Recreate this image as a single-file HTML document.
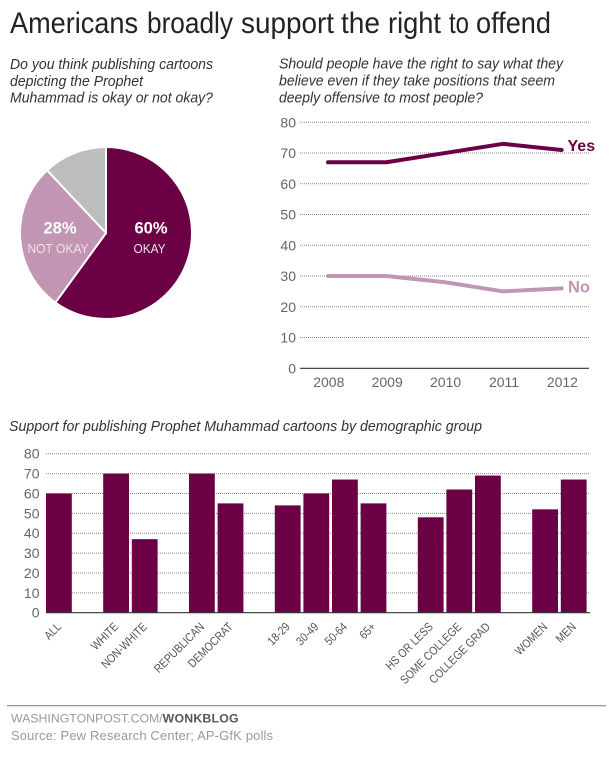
<!DOCTYPE html>
<html lang="en">
<head>
<meta charset="utf-8">
<title>Americans broadly support the right to offend</title>
<style>
html,body{margin:0;padding:0;background:#fff;width:614px;height:757px;overflow:hidden}
svg{display:block;font-family:"Liberation Sans",Arial,sans-serif}
</style>
</head>
<body>
<svg id="chart" xmlns="http://www.w3.org/2000/svg" width="614" height="757" viewBox="0 0 614 757">
  <rect width="614" height="757" fill="#fff"/>
  <text y="33" font-size="30" fill="#222" lengthAdjust="spacingAndGlyphs"><tspan x="10" textLength="128" lengthAdjust="spacingAndGlyphs">Americans</tspan> <tspan x="147" textLength="86" lengthAdjust="spacingAndGlyphs">broadly</tspan> <tspan x="241" textLength="93" lengthAdjust="spacingAndGlyphs">support</tspan> <tspan x="341" textLength="39" lengthAdjust="spacingAndGlyphs">the</tspan> <tspan x="388" textLength="53" lengthAdjust="spacingAndGlyphs">right</tspan> <tspan x="449" textLength="20" lengthAdjust="spacingAndGlyphs">to</tspan> <tspan x="476" textLength="75" lengthAdjust="spacingAndGlyphs">offend</tspan></text>

  <g font-size="14.5" font-style="italic" fill="#333">
    <text x="10" y="69" textLength="203" lengthAdjust="spacingAndGlyphs">Do you think publishing cartoons</text>
    <text x="10" y="86" textLength="133" lengthAdjust="spacingAndGlyphs">depicting the Prophet</text>
    <text x="10" y="102.5" textLength="203" lengthAdjust="spacingAndGlyphs">Muhammad is okay or not okay?</text>
  </g>
  <g font-size="14.5" font-style="italic" fill="#333">
    <text x="279" y="68.5" textLength="284" lengthAdjust="spacingAndGlyphs">Should people have the right to say what they</text>
    <text x="279" y="85.5" textLength="276" lengthAdjust="spacingAndGlyphs">believe even if they take positions that seem</text>
    <text x="279" y="102.5" textLength="204" lengthAdjust="spacingAndGlyphs">deeply offensive to most people?</text>
  </g>

  <g id="pie"></g>
  <g fill="#fff" text-anchor="middle">
    <text x="60" y="233.5" font-size="16.5" font-weight="bold">28%</text>
    <text x="58" y="253" font-size="13" fill="#f0e2ec" textLength="61" lengthAdjust="spacingAndGlyphs">NOT OKAY</text>
    <text x="151" y="233.5" font-size="16.5" font-weight="bold">60%</text>
    <text x="149.5" y="253" font-size="13" fill="#f0e2ec" textLength="32" lengthAdjust="spacingAndGlyphs">OKAY</text>
  </g>

  <g id="line-chart"></g>

  <text x="9" y="431" font-size="14.5" font-style="italic" fill="#333" textLength="473" lengthAdjust="spacingAndGlyphs">Support for publishing Prophet Muhammad cartoons by demographic group</text>
  <g id="bar-chart"></g>

  <rect x="7" y="705" width="599" height="1.3" fill="#999"/>
  <text x="11" y="722.5" font-size="12.3" fill="#9a9a9a">WASHINGTONPOST.COM/<tspan font-weight="bold" fill="#555" letter-spacing="0.2">WONKBLOG</tspan></text>
  <text x="11" y="740" font-size="13" fill="#9a9a9a" textLength="262" lengthAdjust="spacing">Source: Pew Research Center; AP-GfK polls</text>
</svg>
<script>
// ---- Pie data ----
var pieNames = ['okay', 'not-okay', 'no-opinion'];
var pieValues = [60, 28, 12];

// ---- Line chart data ----
var lineYears = ['2008', '2009', '2010', '2011', '2012'];
var yesValues = [67, 67, 70, 73, 71];
var noValues = [30, 30, 28, 25, 26];
var lineTicks = [0, 10, 20, 30, 40, 50, 60, 70, 80];

// ---- Bar chart data ----
var barCategories = ['ALL', 'WHITE', 'NON-WHITE', 'REPUBLICAN', 'DEMOCRAT', '18-29', '30-49', '50-64', '65+', 'HS OR LESS', 'SOME COLLEGE', 'COLLEGE GRAD', 'WOMEN', 'MEN'];
var barValues = [60, 70, 37, 70, 55, 54, 60, 67, 55, 48, 62, 69, 52, 67];
var barGroups = [0, 1, 1, 2, 2, 3, 3, 3, 3, 4, 4, 4, 5, 5];
var barTicks = [0, 10, 20, 30, 40, 50, 60, 70, 80];

var NS = 'http://www.w3.org/2000/svg';
var PURPLE = '#6c0044';
var PINK = '#c295b3';
var GRAY = '#bdbdbd';
var TICK = '#666';

function make(tag, parent, attrs, text) {
  var el = document.createElementNS(NS, tag);
  for (var k in attrs) el.setAttribute(k, attrs[k]);
  if (text !== undefined) el.textContent = text;
  parent.appendChild(el);
  return el;
}

// ---- Pie ----
(function () {
  var g = document.getElementById('pie');
  var cx = 106, cy = 233, r = 86;
  var colors = [PURPLE, PINK, GRAY];
  var total = pieValues.reduce(function (a, b) { return a + b; }, 0);
  var acc = 0;
  function pt(frac) {
    var a = frac * 2 * Math.PI;
    return [cx + r * Math.sin(a), cy - r * Math.cos(a)];
  }
  pieValues.forEach(function (v, i) {
    var p0 = pt(acc / total);
    var p1 = pt((acc + v) / total);
    var large = v / total > 0.5 ? 1 : 0;
    var d = 'M' + cx + ' ' + cy + 'L' + p0[0] + ' ' + p0[1] + 'A' + r + ' ' + r + ' 0 ' + large + ' 1 ' + p1[0] + ' ' + p1[1] + 'Z';
    var slice = make('path', g, { d: d, fill: colors[i], stroke: '#fff', 'stroke-width': 2, 'stroke-linejoin': 'round' });
    
    
    acc += v;
  });
})();

// ---- Line chart ----
(function () {
  var g = document.getElementById('line-chart');
  var left = 300, right = 589;
  function y(v) { return 368.3 - v * (246 / 80); }
  function x(i) { return 328 + i * (233.6 / (lineYears.length - 1)); }

  lineTicks.forEach(function (t) {
    var rule = make('line', g, t === 0
      ? { x1: left, x2: right, y1: y(t), y2: y(t), stroke: '#333', 'stroke-width': 1.2 }
      : { x1: left, x2: right, y1: y(t), y2: y(t), stroke: '#8a8a8a', 'stroke-width': 1, 'stroke-dasharray': '1 1' });
    
    
    var label = make('text', g, { x: 296, y: y(t) + 5, 'font-size': 14, fill: TICK, 'text-anchor': 'end' }, String(t));
    
    
  });

  lineYears.forEach(function (yr, i) {
    var label = make('text', g, { x: x(i) + 0.8, y: 387, 'font-size': 14, fill: TICK, 'text-anchor': 'middle' }, yr);
    
    
  });

  function pts(vals) {
    return vals.map(function (v, i) { return x(i) + ',' + y(v); }).join(' ');
  }
  var noLine = make('polyline', g, { points: pts(noValues), fill: 'none', stroke: PINK, 'stroke-width': 4, 'stroke-linecap': 'round', 'stroke-linejoin': 'round' });
  
  
  var yesLine = make('polyline', g, { points: pts(yesValues), fill: 'none', stroke: PURPLE, 'stroke-width': 4, 'stroke-linecap': 'round', 'stroke-linejoin': 'round' });
  
  

  var last = lineYears.length - 1;
  var yesLabel = make('text', g, { x: 567.5, y: y(yesValues[last]) + 0.8, 'font-size': 16, 'font-weight': 'bold', fill: PURPLE }, 'Yes');
  
  
  var noLabel = make('text', g, { x: 568, y: y(noValues[last]) + 4, 'font-size': 16.5, 'font-weight': 'bold', fill: PINK }, 'No');
  
  
})();

// ---- Bar chart ----
(function () {
  var g = document.getElementById('bar-chart');
  var left = 46, right = 590, base = 612.7, step = 28.6, bw = 25.8;
  function y(v) { return base - v * (159 / 80); }
  function x(i) { return left + (i + barGroups[i]) * step; }

  barTicks.forEach(function (t) {
    if (t === 0) return;
    var rule = make('line', g, { x1: left, x2: right, y1: y(t), y2: y(t), stroke: '#8a8a8a', 'stroke-width': 1, 'stroke-dasharray': '1 1' });
    
    
  });
  barTicks.forEach(function (t) {
    var label = make('text', g, { x: 39.5, y: y(t) + 5, 'font-size': 14, fill: TICK, 'text-anchor': 'end' }, String(t));
    
    
  });

  barValues.forEach(function (v, i) {
    var bar = make('rect', g, { x: x(i), y: y(v), width: bw, height: base - y(v), fill: PURPLE });
    
    
    var ax = x(i) + bw / 2 + 3, ay = 627.5;
    var label = make('text', g, { x: 0, y: 0, 'font-size': 12, fill: '#555', 'text-anchor': 'end', transform: 'translate(' + ax + ' ' + ay + ') rotate(-45) scale(0.85 1)' }, barCategories[i]);
    
    
  });

  var axis = make('line', g, { x1: left, x2: right, y1: base, y2: base, stroke: '#333', 'stroke-width': 1.2 });
  
  
})();
</script>
</body>
</html>
